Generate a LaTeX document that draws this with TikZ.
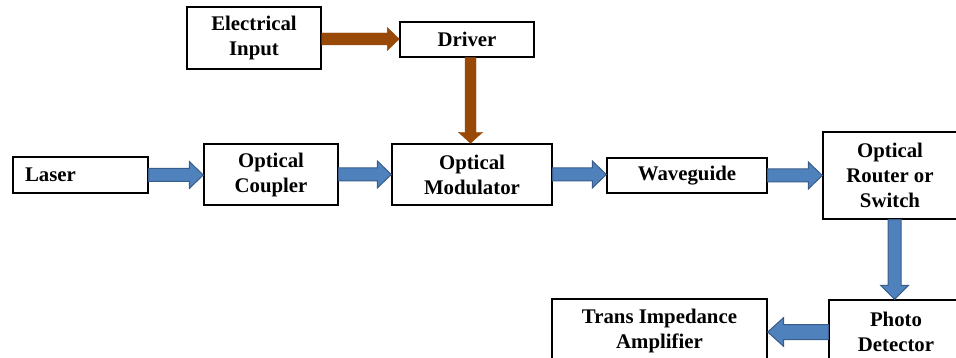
\documentclass[tikz,border=0pt]{standalone}
\usepackage{fontspec}
\setmainfont{Liberation Serif}
\usetikzlibrary{calc}
\definecolor{arrblue}{HTML}{4F81BD}
\definecolor{arrblueedge}{HTML}{385D8A}
\definecolor{arrbrown}{HTML}{984807}
% horizontal block arrow: #1 style, #2 from, #3 to, #4 shaft half, #5 head half, #6 head length, #7 direction (1 right, -1 left)
\newcommand{\hblockarrow}[7]{%
  \path[#1] let \p1=(#2), \p2=(#3) in
    (\x1,\y1+#4pt) -- (\x2-#7*#6pt,\y1+#4pt) -- (\x2-#7*#6pt,\y1+#5pt) -- (\x2,\y1)
    -- (\x2-#7*#6pt,\y1-#5pt) -- (\x2-#7*#6pt,\y1-#4pt) -- (\x1,\y1-#4pt) -- cycle;}
% downward block arrow
\newcommand{\vblockarrow}[6]{%
  \path[#1] let \p1=(#2), \p2=(#3) in
    (\x1+#4pt,\y1) -- (\x1+#4pt,\y2+#6pt) -- (\x1+#5pt,\y2+#6pt) -- (\x1,\y2)
    -- (\x1-#5pt,\y2+#6pt) -- (\x1-#4pt,\y2+#6pt) -- (\x1-#4pt,\y1) -- cycle;}
\begin{document}
\begin{tikzpicture}[x=1pt,y=-1pt,
  blk/.style={draw=black, line width=1.4pt, fill=white, align=center,
    font=\fontsize{20.8}{25}\selectfont\bfseries, inner sep=0pt},
  bluearrow/.style={fill=arrblue, draw=arrblueedge, line width=1pt},
  brownarrow/.style={fill=arrbrown, draw=arrbrown, line width=0.4pt}]
\useasboundingbox (0,0) rectangle (956,358);
\clip (0,0) rectangle (956,358);

\node[blk, minimum width=134pt, minimum height=62pt] (ei) at (254,38) {Electrical\\Input};
\node[blk, minimum width=134pt, minimum height=35pt] (drv) at (467,39.5) {Driver};
\node[blk, text width=111pt, inner xsep=12pt, minimum height=36pt, align=left] (laser) at (80.5,175) {Laser};
\node[blk, minimum width=134pt, minimum height=61pt] (coup) at (271,174.5) {Optical\\Coupler};
\node[blk, minimum width=160pt, minimum height=61pt] (mod) at (472,174.5) {Optical\\Modulator};
\node[blk, minimum width=160pt, minimum height=35pt] (wg) at (687,175.5) {Waveguide};
\node[blk, minimum width=134pt, minimum height=87pt] (rt) at (890,175.5) {Optical\\Router or\\Switch};
\node[blk, minimum width=134pt, minimum height=64pt] (pd) at (896,332) {Photo\\Detector};
\node[blk, minimum width=215pt, minimum height=64pt] (tia) at (659.5,331) {Trans Impedance\\Amplifier};

\coordinate (eiout) at ($(ei.east)+(0,1)$);
\coordinate (drvout) at ($(drv.south)+(3.5,0)$);
\coordinate (rtout) at ($(rt.south)+(4.5,0)$);

\hblockarrow{brownarrow}{eiout}{drv.west}{6}{11.5}{12}{1}
\vblockarrow{brownarrow}{drvout}{mod.north}{5.5}{12}{11}

\hblockarrow{bluearrow}{laser.east}{coup.west}{6.5}{13.5}{14}{1}
\hblockarrow{bluearrow}{coup.east}{mod.west}{6.5}{13.5}{14}{1}
\hblockarrow{bluearrow}{mod.east}{wg.west}{6.5}{13.5}{14}{1}
\hblockarrow{bluearrow}{wg.east}{rt.west}{6.5}{13.5}{14}{1}
\vblockarrow{bluearrow}{rtout}{pd.north}{6.5}{14}{14}
\hblockarrow{bluearrow}{pd.west}{tia.east}{7.5}{14.5}{16}{-1}
\end{tikzpicture}
\end{document}
